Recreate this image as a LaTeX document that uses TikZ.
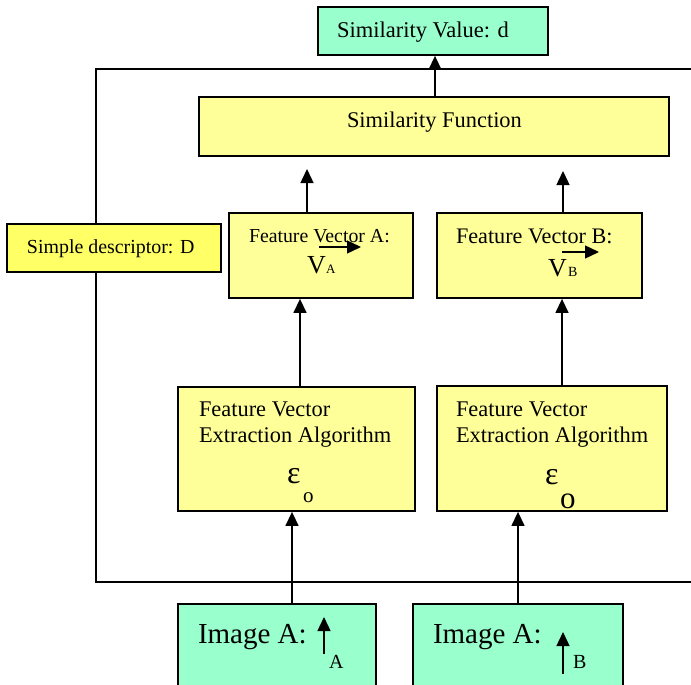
\documentclass[tikz,border=0pt]{standalone}
\usepackage{fontspec}
\setmainfont{Liberation Serif}
\usetikzlibrary{arrows.meta}
\definecolor{aqua}{RGB}{153,255,204}
\definecolor{lyell}{RGB}{255,255,153}
\definecolor{dyell}{RGB}{255,255,102}
\tikzset{
  box/.style={draw=black, line width=1.8pt, rectangle, inner sep=0pt},
  txt/.style={anchor=base west, inner sep=0pt, outer sep=0pt},
  arr/.style={line width=1.4pt, -{Triangle[length=14pt,width=13pt]}},
  fsz/.style={font=\fontsize{#1}{#1}\selectfont}
}
\begin{document}
\begin{tikzpicture}[x=1pt,y=-1pt]
\useasboundingbox (0,0) rectangle (691,685);
\clip (0,0) rectangle (691,685);
% outer frame
\draw[line width=1.5pt] (96,69) rectangle (740,582);
% boxes
\node[box, fill=aqua, minimum width=230pt, minimum height=48pt] (simv) at (433,31) {};
\node[box, fill=lyell, minimum width=470pt, minimum height=59pt] (simf) at (434,126.5) {};
\node[box, fill=dyell, minimum width=214pt, minimum height=48pt] (desc) at (114,248) {};
\node[box, fill=lyell, minimum width=184pt, minimum height=85pt] (fvA) at (321,255.5) {};
\node[box, fill=lyell, minimum width=205pt, minimum height=85pt] (fvB) at (539.5,255.5) {};
\node[box, fill=lyell, minimum width=237pt, minimum height=124pt] (exA) at (296.5,449) {};
\node[box, fill=lyell, minimum width=230pt, minimum height=125pt] (exB) at (552,448.5) {};
\node[box, fill=aqua, minimum width=198pt, minimum height=110pt] (imA) at (277,659) {};
\node[box, fill=aqua, minimum width=210pt, minimum height=110pt] (imB) at (518,659) {};
% texts
\node[txt, fsz=22.5] (tsv) at (337,38) {Similarity Value: d};
\node[txt, fsz=22.4] (tsf) at (347,127) {Similarity Function};
\node[txt, fsz=19.9] (tds) at (27,253) {Simple descriptor: D};
\node[txt, fsz=19.8] (tfa) at (249,242) {Feature Vector A:};
\node[txt, fsz=26] (tva) at (307,273) {V};
\node[txt, fsz=13] (tsa) at (326,273) {A};
\node[txt, fsz=22.2] (tfb) at (456,243) {Feature Vector B:};
\node[txt, fsz=26] (tvb) at (548,276) {V};
\node[txt, fsz=14] (tsb) at (568,276) {B};
\node[txt, fsz=22.4] (tea1) at (199,416) {Feature Vector};
\node[txt, fsz=22.4] (tea2) at (199,442) {Extraction Algorithm};
\node[txt, fsz=32] (tepa) at (287,483) {ε};
\node[txt, fsz=21] (toa) at (303,502) {o};
\node[txt, fsz=22.4] (teb1) at (456,416) {Feature Vector};
\node[txt, fsz=22.4] (teb2) at (456,442) {Extraction Algorithm};
\node[txt, fsz=32] (tepb) at (545,484) {ε};
\node[txt, fsz=31] (tob) at (560,508) {o};
\node[txt, fsz=29] (tia) at (198,643) {Image A:};
\node[txt, fsz=20] (tia2) at (329,668) {A};
\node[txt, fsz=29] (tib) at (433,643) {Image A:};
\node[txt, fsz=20] (tib2) at (573,668) {B};
% small vector / image arrows
\coordinate (va1) at (319,247); \coordinate (va2) at (361,247);
\coordinate (vb1) at (562,252); \coordinate (vb2) at (599,252);
\draw[arr] (va1) -- (va2);
\draw[arr] (vb1) -- (vb2);
\coordinate (ia1) at (324,654); \coordinate (ia2) at (324,617);
\coordinate (ib1) at (563,674); \coordinate (ib2) at (563,632);
\draw[arr] (ia1) -- (ia2);
\draw[arr] (ib1) -- (ib2);
% connectors
\coordinate (xsv) at (435,0);
\draw[arr] (simf.north -| xsv) -- (simv.south -| xsv);
\coordinate (upA) at (307,169);
\coordinate (upB) at (563,171);
\draw[arr] (fvA.north -| upA) -- (upA);
\draw[arr] (fvB.north -| upB) -- (upB);
\coordinate (xa) at (300,0);
\coordinate (xb) at (562,0);
\draw[arr] (exA.north -| xa) -- (fvA.south -| xa);
\draw[arr] (exB.north -| xb) -- (fvB.south -| xb);
\coordinate (xia) at (292,0);
\coordinate (xib) at (518,0);
\draw[arr] (imA.north -| xia) -- (exA.south -| xia);
\draw[arr] (imB.north -| xib) -- (exB.south -| xib);
\end{tikzpicture}
\end{document}
